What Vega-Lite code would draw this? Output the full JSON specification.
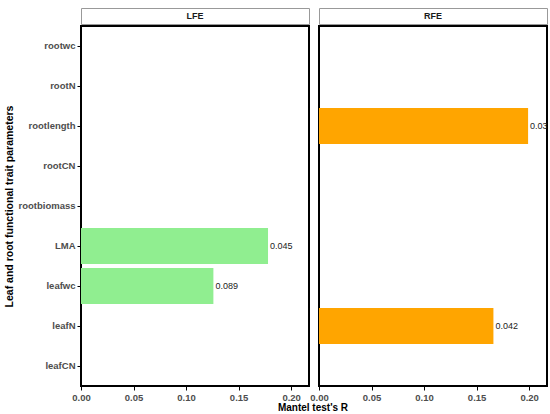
{
  "$schema": "https://vega.github.io/schema/vega-lite/v6.json",
  "padding": {"left": 3, "top": 7, "right": 5, "bottom": 6},
  "title": {"text": "Mantel test's R", "orient": "bottom", "anchor": "middle", "fontSize": 10, "fontWeight": "bold", "color": "black", "offset": 0, "dx": 37},
  "config": {
    "font": "Liberation Sans",
    "axis": {"grid": false, "domain": false, "tickColor": "black", "tickSize": 4, "labelFontWeight": "bold", "labelColor": "#4d4d4d", "labelFontSize": 9.5, "titleFontWeight": "bold", "titleColor": "black", "titleFontSize": 10}
  },
  "datasets": {
    "mantel": [
      {"panel": "LFE", "trait": "LMA", "R": 0.178, "p": "0.045"},
      {"panel": "LFE", "trait": "leafwc", "R": 0.126, "p": "0.089"},
      {"panel": "RFE", "trait": "rootlength", "R": 0.199, "p": "0.036"},
      {"panel": "RFE", "trait": "leafN", "R": 0.166, "p": "0.042"}
    ],
    "strips": [{"panel": "LFE"}, {"panel": "RFE"}]
  },
  "spacing": -2,
  "hconcat": [
    {
      "spacing": 0,
      "vconcat": [
        {
          "width": 228, "height": 16,
          "view": {"stroke": "#999", "strokeWidth": 1, "fill": "white"},
          "data": {"name": "strips"},
          "transform": [{"filter": "datum.panel === 'LFE'"}],
          "mark": {"type": "text", "fontWeight": "bold", "fontSize": 9, "color": "#1a1a1a"},
          "encoding": {"text": {"field": "panel"}}
        },
        {
          "width": 228, "height": 360,
          "view": {"stroke": "black", "strokeWidth": 2},
          "data": {"name": "mantel"},
          "transform": [{"filter": "datum.panel === 'LFE'"}],
          "encoding": {
            "y": {
              "field": "trait", "type": "nominal",
              "scale": {"domain": ["rootwc", "rootN", "rootlength", "rootCN", "rootbiomass", "LMA", "leafwc", "leafN", "leafCN"], "paddingInner": 0.1, "paddingOuter": 0.05},
              "axis": {"title": "Leaf and root functional trait parameters", "titleFontSize": 10.5, "labelPadding": 2, "titlePadding": 3}
            },
            "x": {
              "field": "R", "type": "quantitative",
              "scale": {"domain": [0, 0.217], "nice": false},
              "axis": {"values": [0, 0.05, 0.1, 0.15, 0.2], "format": ".2f", "labelFlush": false, "title": null}
            }
          },
          "layer": [
            {"mark": {"type": "bar", "color": "#90EE90"}},
            {"mark": {"type": "text", "align": "left", "dx": 2, "clip": true, "fontSize": 9, "color": "#222"}, "encoding": {"text": {"field": "p"}}}
          ]
        }
      ]
    },
    {
      "spacing": 0,
      "vconcat": [
        {
          "width": 228, "height": 16,
          "view": {"stroke": "#999", "strokeWidth": 1, "fill": "white"},
          "data": {"name": "strips"},
          "transform": [{"filter": "datum.panel === 'RFE'"}],
          "mark": {"type": "text", "fontWeight": "bold", "fontSize": 9, "color": "#1a1a1a"},
          "encoding": {"text": {"field": "panel"}}
        },
        {
          "width": 228, "height": 360,
          "view": {"stroke": "black", "strokeWidth": 2},
          "data": {"name": "mantel"},
          "transform": [{"filter": "datum.panel === 'RFE'"}],
          "encoding": {
            "y": {
              "field": "trait", "type": "nominal",
              "scale": {"domain": ["rootwc", "rootN", "rootlength", "rootCN", "rootbiomass", "LMA", "leafwc", "leafN", "leafCN"], "paddingInner": 0.1, "paddingOuter": 0.05},
              "axis": null
            },
            "x": {
              "field": "R", "type": "quantitative",
              "scale": {"domain": [0, 0.217], "nice": false},
              "axis": {"values": [0, 0.05, 0.1, 0.15, 0.2], "format": ".2f", "labelFlush": false, "title": null}
            }
          },
          "layer": [
            {"mark": {"type": "bar", "color": "#FFA500"}},
            {"mark": {"type": "text", "align": "left", "dx": 2, "clip": true, "fontSize": 9, "color": "#222"}, "encoding": {"text": {"field": "p"}}}
          ]
        }
      ]
    }
  ]
}
